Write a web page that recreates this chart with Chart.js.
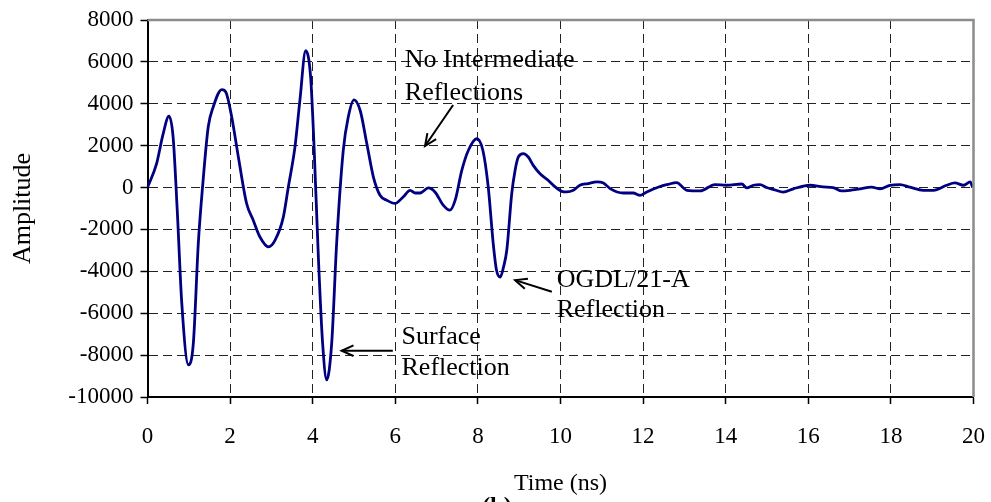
<!DOCTYPE html>
<html>
<head>
<meta charset="utf-8">
<script src="https://cdn.jsdelivr.net/npm/chart.js@4"></script>
<style>
  html, body { margin: 0; padding: 0; background: #fff; }
  canvas { display: block; }
</style>
</head>
<body>
<canvas id="c" width="991" height="502"></canvas>
<script>
// ---- Data ----
const timeNs = [
  0, 0.22, 0.37, 0.52, 0.62, 0.72, 0.83, 0.99, 1.11, 1.23, 1.34, 1.47, 1.59, 1.80, 1.90,
  2.04, 2.20, 2.40, 2.56, 2.72, 2.93, 3.09, 3.29, 3.41, 3.57, 3.69, 3.83, 3.95, 4.03, 4.14,
  4.24, 4.34, 4.46, 4.58, 4.74, 4.86, 5.00, 5.15, 5.31, 5.47, 5.63, 5.79, 5.99, 6.19, 6.36,
  6.48, 6.60, 6.80, 6.96, 7.16, 7.32, 7.45, 7.61, 7.77, 7.97, 8.12, 8.25, 8.37, 8.45, 8.54,
  8.62, 8.70, 8.82, 8.90, 8.98, 9.10, 9.22, 9.34, 9.50, 9.70, 9.87, 10.03, 10.15, 10.31, 10.47,
  10.67, 10.88, 11.04, 11.20, 11.52, 11.76, 11.93, 12.09, 12.41, 12.60, 12.81, 13.06, 13.38, 13.74, 14.02,
  14.39, 14.51, 14.67, 14.83, 14.99, 15.19, 15.39, 15.64, 16.04, 16.36, 16.60, 16.81, 17.01, 17.25, 17.53,
  17.74, 17.98, 18.22, 18.46, 18.78, 19.03, 19.35, 19.55, 19.76, 19.92, 19.98
];
const amplitude = [
  0, 1140, 2490, 3410, 2410, -1080, -5520, -8460, -7430, -2670, 190, 2890, 3840, 4680, 4550,
  3360, 1460, -760, -1560, -2350, -2830, -2510, -1400, 30, 1930, 4160, 6540, 5270, 2100, -3460,
  -7430, -9180, -7430, -2650, 1780, 3360, 4190, 3680, 2100, 500, -370, -600, -760, -450, -130,
  -260, -260, -20, -210, -840, -1080, -600, 820, 1780, 2330, 1780, 30, -2650, -3940, -4280,
  -3800, -2980, -280, 820, 1460, 1620, 1460, 1060, 670, 350, 30, -180, -210, -130, 110,
  190, 270, 220, -50, -260, -260, -370, -210, 50, 150, 240, -130, -160, 140, 110,
  170, -20, 110, 140, 0, -110, -220, -60, 110, 30, 0, -160, -130, -60, 20,
  -60, 110, 140, 20, -130, -130, 110, 220, 110, 270, 0
];
const xTicks = [0, 2, 4, 6, 8, 10, 12, 14, 16, 18, 20];
const yTicks = [-10000, -8000, -6000, -4000, -2000, 0, 2000, 4000, 6000, 8000];
const xTitle = 'Time (ns)';
const yTitle = 'Amplitude';
const caption = '(b)';

// annotations in data coordinates: text lines + arrow tail/tip
const notes = [
  { lines: ['No Intermediate', 'Reflections'], x: 6.23, y: [5770, 4180], tail: [7.40, 3940], tip: [6.72, 1985] },
  { lines: ['Surface', 'Reflection'], x: 6.15, y: [-7470, -8950], tail: [5.94, -7790], tip: [4.70, -7790] },
  { lines: ['OGDL/21-A', 'Reflection'], x: 9.91, y: [-4730, -6170], tail: [9.79, -4975], tip: [8.90, -4420] }
];

const SERIF = "'Liberation Serif', 'Times New Roman', Times, serif";
Chart.defaults.font.family = SERIF;
Chart.defaults.color = '#000';

const points = timeNs.map((t, i) => ({ x: t, y: amplitude[i] }));

const overlay = {
  id: 'overlay',
  afterDatasetsDraw(chart) {
    const { ctx, chartArea: a, scales: { x, y } } = chart;
    ctx.save();
    // gray top/right frame
    ctx.strokeStyle = '#8c8c8c';
    ctx.lineWidth = 2.5;
    ctx.beginPath();
    ctx.moveTo(a.left, a.top);
    ctx.lineTo(a.right, a.top);
    ctx.lineTo(a.right, a.bottom);
    ctx.stroke();

    // annotations
    ctx.fillStyle = '#000';
    ctx.strokeStyle = '#000';
    ctx.font = '26px ' + SERIF;
    ctx.textAlign = 'left';
    ctx.textBaseline = 'alphabetic';
    notes.forEach(n => {
      n.lines.forEach((ln, i) => ctx.fillText(ln, x.getPixelForValue(n.x), y.getPixelForValue(n.y[i])));
      const x1 = x.getPixelForValue(n.tail[0]), y1 = y.getPixelForValue(n.tail[1]);
      const x2 = x.getPixelForValue(n.tip[0]), y2 = y.getPixelForValue(n.tip[1]);
      ctx.lineWidth = 2;
      ctx.beginPath();
      ctx.moveTo(x1, y1);
      ctx.lineTo(x2, y2);
      ctx.stroke();
      const ang = Math.atan2(y2 - y1, x2 - x1);
      const L = 13, w = 0.42;
      ctx.beginPath();
      ctx.moveTo(x2 - L * Math.cos(ang - w), y2 - L * Math.sin(ang - w));
      ctx.lineTo(x2, y2);
      ctx.lineTo(x2 - L * Math.cos(ang + w), y2 - L * Math.sin(ang + w));
      ctx.stroke();
    });

    // caption (cut off at the bottom edge)
    ctx.font = 'bold 24px ' + SERIF;
    ctx.textAlign = 'center';
    ctx.fillText(caption, 497, 513);
    ctx.restore();
  }
};

new Chart(document.getElementById('c'), {
  type: 'line',
  data: {
    datasets: [{
      data: points,
      borderColor: '#000080',
      borderWidth: 2.8,
      pointRadius: 0,
      fill: false,
      cubicInterpolationMode: 'monotone'
    }]
  },
  options: {
    responsive: false,
    animation: false,
    layout: { padding: { left: 0, right: 17.5, top: 20, bottom: 0 } },
    plugins: { legend: { display: false }, tooltip: { enabled: false } },
    scales: {
      x: {
        type: 'linear',
        min: 0, max: 20,
        afterBuildTicks: s => { s.ticks = xTicks.map(v => ({ value: v })); },
        afterFit: s => { s.height = 105; s.paddingLeft = 0; s.paddingRight = 0; },
        ticks: { font: { size: 23 }, color: '#000', padding: 19, maxRotation: 0, autoSkip: false,
                 callback: v => String(v) },
        grid: { color: '#222', lineWidth: 1, tickLength: 7, tickColor: '#000', tickWidth: 1.5, tickBorderDash: [] },
        border: { color: '#000', width: 2, dash: [9, 5] },
        title: { display: true, text: xTitle, font: { size: 24 }, color: '#000', padding: { top: 0, bottom: 4 } }
      },
      y: {
        min: -10000, max: 8000,
        afterBuildTicks: s => { s.ticks = yTicks.map(v => ({ value: v })); },
        afterFit: s => { s.width = 147.5; s.paddingTop = 0; s.paddingBottom = 0; },
        ticks: { font: { size: 23 }, color: '#000', padding: 7, autoSkip: false,
                 callback: v => String(v) },
        grid: { color: '#222', lineWidth: 1, tickLength: 7, tickColor: '#000', tickWidth: 1.5, tickBorderDash: [] },
        border: { color: '#000', width: 2, dash: [9, 5] },
        title: { display: true, text: yTitle, font: { size: 26 }, color: '#000', padding: { top: 8, bottom: 0 } }
      }
    }
  },
  plugins: [overlay]
});
</script>
</body>
</html>
